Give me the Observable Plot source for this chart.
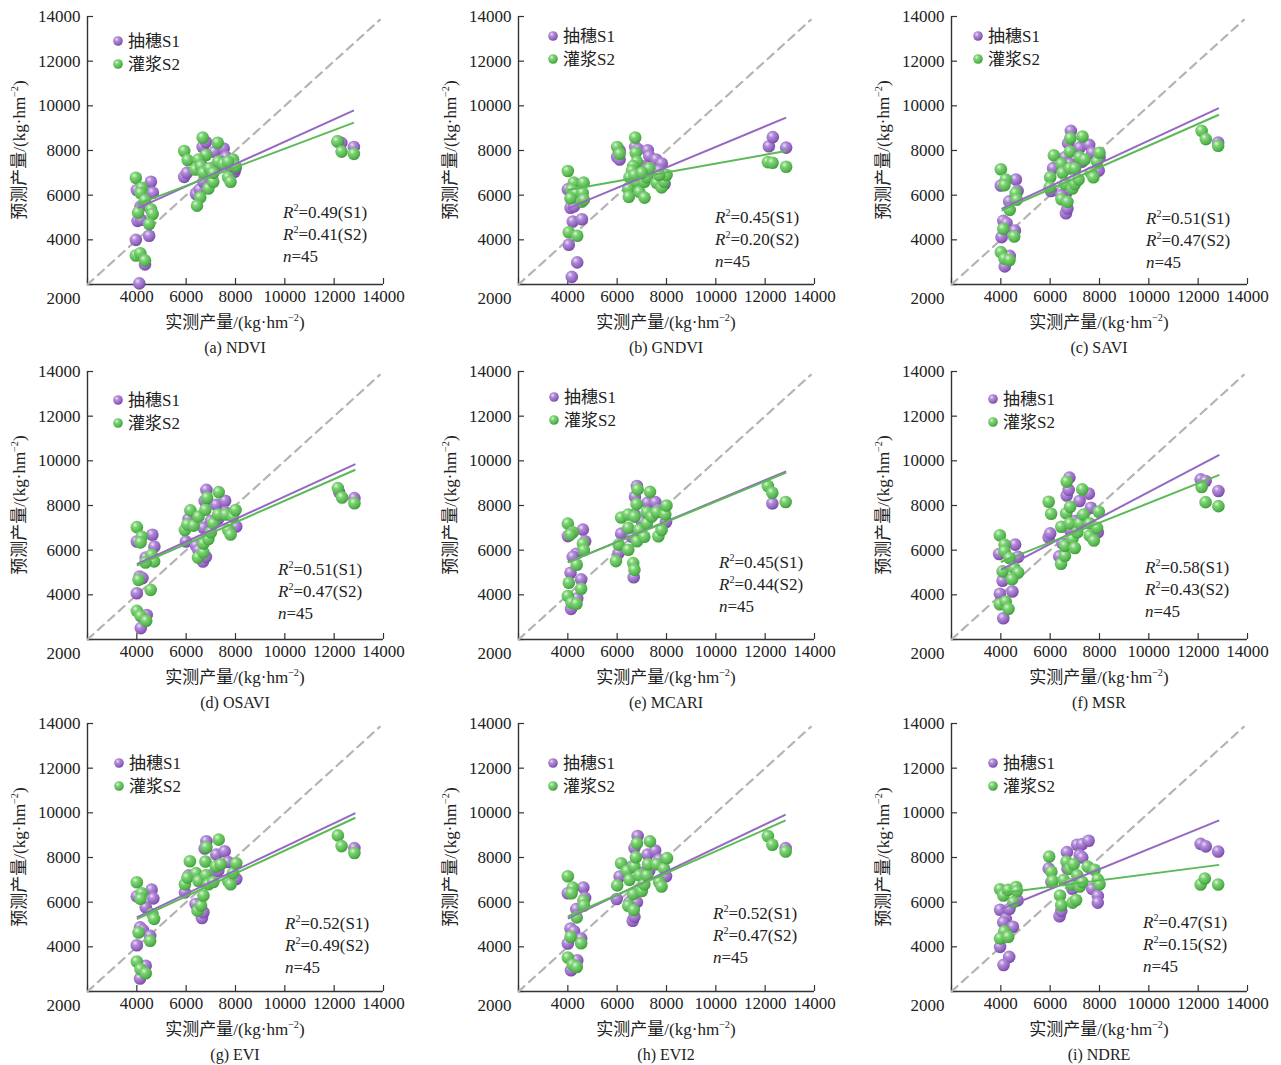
<!DOCTYPE html>
<html><head><meta charset="utf-8">
<script src="https://cdn.jsdelivr.net/npm/d3@7"></script>
<script src="https://cdn.jsdelivr.net/npm/@observablehq/plot@0.6"></script>
<style>
body{margin:0;background:#fff;width:1281px;height:1065px;position:relative;overflow:hidden;}
.panel{position:absolute;width:430px;height:355px;}
.panel svg{max-width:none !important;}
</style></head><body>
<svg width="0" height="0" style="position:absolute;left:0;top:0">
<defs>
<radialGradient id="gP" cx="0.36" cy="0.32" r="0.72">
<stop offset="0" stop-color="#ede0f8"/><stop offset="0.3" stop-color="#b28cd8"/><stop offset="0.75" stop-color="#9062be"/><stop offset="1" stop-color="#74489e"/>
</radialGradient>
<radialGradient id="gG" cx="0.36" cy="0.32" r="0.72">
<stop offset="0" stop-color="#dcf7d6"/><stop offset="0.3" stop-color="#7fd277"/><stop offset="0.75" stop-color="#55b64e"/><stop offset="1" stop-color="#3d963a"/>
</radialGradient>
</defs></svg>
<script>
// ---------------- data ----------------
const captions = ["(a) NDVI","(b) GNDVI","(c) SAVI","(d) OSAVI","(e) MCARI","(f) MSR","(g) EVI","(h) EVI2","(i) NDRE"];
const seriesNames = ["抽穗S1","灌浆S2"];
const r2S1 = [0.49,0.45,0.51,0.51,0.45,0.58,0.52,0.52,0.47];
const r2S2 = [0.41,0.20,0.47,0.47,0.44,0.43,0.49,0.47,0.15];
const nSamples = 45;
const xTicks = [2000,4000,6000,8000,10000,12000,14000];
const yTicks = [2000,4000,6000,8000,10000,12000,14000];
const diagEnds = [2000,13850];
const xTitle = ["实测产量/(kg·hm", "−2", ")"];
const yTitle = ["预测产量/(kg·hm", "−2", ")"];

const ndviS1 = [[4100,2050],[4330,2900],[3960,4000],[4500,4180],[4030,4850],[4170,4900],[4150,5500],[4000,6230],[4570,6600],[4650,6110],[4300,5600],[5920,6820],[6030,7000],[6400,6050],[6550,6250],[6670,8160],[6800,8380],[7140,7940],[7520,8090],[7620,7710],[7960,7050],[8000,7200],[6900,6700],[7000,7000],[7200,7300],[6700,6600],[7400,7500],[7800,7300],[6600,7400],[12290,8340],[12800,8160],[12150,8400]];
const ndviS2 = [[3960,6780],[4200,6330],[4150,6100],[4330,5780],[4050,5220],[4570,5370],[4640,5160],[4500,4710],[3960,3300],[4140,3400],[4330,3080],[5920,7980],[6060,7570],[6670,8580],[7280,8350],[6800,7800],[6500,7600],[6370,7150],[6600,7300],[6700,7000],[6900,6300],[6570,5900],[6440,5530],[7100,6600],[7300,7500],[7500,7400],[7700,6800],[7800,6600],[7900,7600],[8000,7300],[7700,7500],[6950,7200],[7100,7000],[12130,8410],[12300,7950],[12800,7850]];
const gndviS1 = [[4000,6260],[4110,5440],[4250,5500],[4200,4820],[4570,4920],[4040,3780],[4380,2990],[4160,2340],[6000,7710],[6100,7600],[6100,8000],[6730,8160],[6850,8050],[7240,8010],[7300,7750],[7580,7600],[7810,7420],[7920,6500],[6570,6200],[6450,6300],[7000,7300],[7400,7200],[6900,7000],[7700,7100],[12150,8190],[12310,8600],[12850,8130]];
const gndviS2 = [[4000,7080],[4240,6560],[4640,6560],[4150,6250],[4330,6100],[4600,6100],[4110,5860],[4570,5710],[4650,5800],[4040,4340],[4380,4180],[6000,8160],[6100,7850],[6730,8580],[6750,7900],[6800,7500],[6650,7300],[6600,7100],[6500,6800],[6450,6300],[6470,5930],[6800,6600],[6900,6150],[7110,5890],[7100,6600],[7200,6800],[7300,7200],[7600,6550],[7800,6350],[7900,6600],[8000,6900],[7700,6900],[6700,6900],[7000,7000],[12110,7480],[12300,7450],[12850,7270]];
const saviS1 = [[4000,6430],[4610,6700],[4680,6190],[4340,5720],[4100,4850],[4230,4750],[4030,4120],[4570,4420],[4360,3280],[4160,2810],[6030,6190],[6120,7210],[6600,7700],[6730,8330],[6840,8880],[7200,8130],[7580,8250],[7700,7900],[7970,7100],[8000,7700],[6640,5190],[6700,5400],[6650,6100],[6450,6000],[6800,7400],[7000,7200],[7300,7500],[12810,8360]];
const saviS2 = [[4000,7160],[4200,6700],[4150,6450],[4600,6090],[4650,5800],[4360,5340],[4100,4490],[4540,4150],[4000,3450],[4150,3150],[4350,3100],[6150,7780],[6000,6800],[5980,6350],[6450,7400],[6500,7000],[6600,6500],[6460,5820],[6700,5700],[6800,7950],[6820,8550],[6800,7200],[6900,6300],[7000,6500],[7000,7200],[7150,6700],[7200,7700],[7310,8630],[7400,7600],[7650,7000],[7750,6800],[7900,7500],[8000,7900],[12140,8880],[12310,8510],[12810,8210]];
const osaviS1 = [[4000,6390],[4630,6690],[4710,6160],[4360,5670],[4110,4820],[4230,4750],[4000,4070],[4400,3100],[4160,2510],[5990,6390],[6100,7400],[6400,6200],[6500,6000],[6680,5490],[6800,5700],[6820,8700],[6750,8200],[7220,8030],[7580,8210],[7600,7700],[8030,7060],[7000,7300],[7300,7400],[6700,7000],[12200,8600],[12820,8330]];
const osaviS2 = [[4000,7030],[4200,6600],[4150,6350],[4600,5790],[4700,5500],[4350,5450],[4070,4670],[4560,4220],[4000,3280],[4150,3050],[4380,2840],[5950,6900],[6050,7150],[6170,7780],[6300,7100],[6500,7500],[6480,5670],[6700,5900],[6700,6300],[6780,7810],[6850,8350],[6900,6500],[7000,6800],[7100,7200],[7320,8600],[7300,7600],[7600,7600],[7700,6900],[7800,6700],[7900,7500],[8000,7800],[12150,8780],[12320,8360],[12820,8100]];
const mcariS1 = [[4000,6630],[4610,6920],[4700,6400],[4340,5840],[4200,5700],[4110,4990],[4540,4690],[4380,3850],[4130,3370],[6160,6740],[6060,5870],[6670,4790],[6600,6600],[6800,8870],[6720,8390],[7230,8120],[7550,8150],[7650,7800],[7980,7260],[6700,7600],[7000,7300],[7300,7500],[12290,8090]];
const mcariS2 = [[4000,7190],[4200,6800],[4100,6700],[4610,6290],[4650,6000],[4360,5350],[4040,4540],[4540,4270],[4000,3950],[4150,3650],[4350,3600],[5950,5510],[6060,6250],[6160,7460],[6450,7600],[6450,7000],[6450,6020],[6650,5420],[6700,5120],[6700,7500],[6790,8060],[6830,8720],[6800,6400],[6900,6900],[7100,6600],[7200,7200],[7200,7700],[7330,8610],[7400,7500],[7600,7700],[7670,6620],[7800,6900],[7950,7600],[8000,8000],[12110,8870],[12290,8570],[12830,8160]];
const msrS1 = [[3930,5830],[4580,6250],[4700,5700],[4070,4630],[4470,4150],[3960,4050],[4100,2950],[5940,6580],[6000,6750],[6370,5720],[6500,6300],[6670,8450],[6750,8700],[6780,9250],[7190,8200],[7570,8530],[7650,7900],[7930,6800],[7000,7300],[7300,7500],[6800,6900],[12100,9170],[12300,9100],[12820,8650]];
const msrS2 = [[3960,6670],[4150,6250],[4150,5950],[4350,5650],[4070,5050],[4540,5200],[4700,5000],[4450,4700],[3960,3580],[4200,3700],[4310,3370],[5940,8170],[6040,7630],[6450,7050],[6440,5390],[6600,5750],[6600,6200],[6650,7650],[6670,9070],[6810,7940],[6800,7200],[6900,6500],[7000,6100],[7100,6800],[7200,7200],[7300,8720],[7350,7600],[7600,7200],[7600,6650],[7770,6430],[7900,7000],[7970,7720],[12140,8830],[12300,8150],[12820,7970]];
const eviS1 = [[4000,6260],[4600,6560],[4670,6170],[4360,5770],[4130,4870],[4250,4750],[4540,4490],[4000,4070],[4360,3150],[4130,2580],[5950,6440],[6100,7200],[6380,5920],[6640,5290],[6700,5550],[6820,8730],[6750,8400],[7220,8130],[7560,8280],[7700,7800],[8030,7040],[7000,7200],[7300,7400],[12820,8420]];
const eviS2 = [[4000,6890],[4200,6400],[4150,6150],[4630,5470],[4700,5250],[4070,4640],[4540,4270],[4000,3340],[4150,3000],[4360,2820],[5950,6800],[6050,7100],[6150,7830],[6400,7300],[6500,6950],[6460,5620],[6600,5850],[6700,6300],[6780,7820],[6820,8460],[6800,7200],[6900,6800],[7100,6900],[7200,7600],[7320,8800],[7400,7700],[7700,6950],[7800,6800],[7900,7300],[8030,7740],[12150,8990],[12300,8510],[12820,8200]];
const evi2S1 = [[4000,6400],[4630,6660],[4700,6190],[4340,5690],[4110,4820],[4250,4700],[4540,4370],[4000,4150],[4380,3400],[4130,2950],[5980,6140],[6100,7150],[6500,6000],[6630,5170],[6700,5350],[6800,6000],[6700,8420],[6830,8960],[6600,7600],[7230,8130],[7540,8310],[7700,7900],[7980,7160],[7000,7300],[7300,7400],[12830,8420]];
const evi2S2 = [[4000,7160],[4200,6650],[4150,6400],[4630,6070],[4650,5850],[4360,5320],[4110,4450],[4540,4160],[4000,3520],[4200,3200],[4360,3100],[6000,6750],[6160,7740],[6400,7400],[6500,7000],[6450,5840],[6670,5650],[6650,6360],[6700,7600],[6760,8010],[6800,8640],[6900,7200],[7000,6500],[7100,6800],[7200,7200],[7250,7700],[7330,8720],[7600,7700],[7700,6900],[7800,6700],[7900,7500],[8020,7970],[12110,8960],[12290,8570],[12830,8270]];
const ndreS1 = [[3970,5660],[4200,5250],[4100,5100],[4350,5700],[4680,6080],[4490,4900],[3970,4000],[4340,3550],[4110,3190],[5940,7510],[6050,6900],[6380,5370],[6450,5600],[6680,8240],[6700,7500],[6900,6600],[7090,8570],[7300,8600],[7560,8750],[7200,8100],[7300,8000],[7700,6600],[7930,6280],[7930,5980],[12100,8610],[12310,8500],[12810,8270]];
const ndreS2 = [[3970,6580],[4100,6300],[4300,6550],[4620,6680],[4650,6500],[4510,6000],[4140,4690],[3970,4380],[4300,4450],[5960,8040],[6050,7360],[6100,6950],[6400,6300],[6450,5860],[6550,7000],[6660,7820],[6800,7500],[6850,6800],[6910,5980],[7050,6100],[6950,7700],[7100,7200],[7200,6700],[7300,6900],[7520,7590],[7800,7450],[7930,7020],[8000,6800],[12100,6790],[12270,7060],[12810,6790]];

const pointsS1 = [ndviS1,gndviS1,saviS1,osaviS1,mcariS1,msrS1,eviS1,evi2S1,ndreS1];
const pointsS2 = [ndviS2,gndviS2,saviS2,osaviS2,mcariS2,msrS2,eviS2,evi2S2,ndreS2];
// fitted lines: [x start, y start, x end, y end]
const fitS1 = [[4050,5420,12800,9800],[4000,5410,12850,9470],[4030,5390,12840,9900],[4000,5370,12860,9850],[4000,5450,12850,9530],[4000,5120,12860,10270],[4000,5320,12860,9990],[4000,5260,12830,9920],[4040,5700,12850,9660]];
const fitS2 = [[4000,5590,12800,9250],[4000,6230,12850,7980],[4030,5310,12840,9600],[4000,5310,12860,9600],[4000,5450,12850,9470],[4000,5470,12860,9370],[4000,5240,12860,9780],[4000,5360,12830,9660],[4040,6410,12850,7670]];

// ---------------- layout & style ----------------
const FONT = '"Liberation Serif","Noto Sans CJK SC",serif';
const colLeft = [0,431,864];
const rowTop = [0,355,707];
const layout = [
  {leg:[31,25], ann:[196,196]}, {leg:[35,20], ann:[197,201]}, {leg:[27,20], ann:[195,202]},
  {leg:[31,29], ann:[191,198]}, {leg:[36,26], ann:[201,191]}, {leg:[42,28], ann:[194,196]},
  {leg:[32,40], ann:[198,200]}, {leg:[35,40], ann:[195,190]}, {leg:[42,40], ann:[192,199]}
];
const PURPLE = "#9568c2", GREEN = "#5cba56", AXIS = "#333", TXT = "#222";
const W = 430, H = 355, ML = 87, MT = 16, PW = 296, PH = 268;
const fmt = d => String(d);

function rich(g, x, y, parts, {anchor="start", size=17, rotate=0}={}) {
  const t = g.append("text").attr("x", x).attr("y", y).attr("text-anchor", anchor)
    .attr("font-size", size).attr("fill", TXT);
  if (rotate) t.attr("transform", `rotate(${rotate},${x},${y})`);
  let shift = 0;
  for (const p of parts) {
    const sp = t.append("tspan");
    const cur = p.sup ? -size * 0.4 : 0;
    if (cur !== shift) sp.attr("dy", cur - shift);
    shift = cur;
    if (p.sup) sp.attr("font-size", size * 0.6);
    if (p.it) sp.attr("font-style", "italic");
    sp.text(p.t);
  }
  return t;
}

function overlay(i) {
  return (index, scales, values, dims) => {
    const mL = dims.marginLeft, mT = dims.marginTop;
    const pw = dims.width - mL - dims.marginRight, ph = dims.height - mT - dims.marginBottom;
    const g = d3.create("svg:g").attr("font-family", FONT);
    const L = layout[i];
    // legend
    ["url(#gP)","url(#gG)"].forEach((f, k) => {
      const cx = mL + L.leg[0], cy = mT + L.leg[1] + k * 23;
      g.append("circle").attr("cx", cx).attr("cy", cy).attr("r", 4.8).attr("fill", f);
      g.append("text").attr("x", cx + 10).attr("y", cy + 6).attr("text-anchor", "start")
        .attr("font-size", 17).attr("fill", TXT).text(seriesNames[k]);
    });
    // annotation
    const ax = mL + L.ann[0], ay = mT + L.ann[1] + 6;
    rich(g, ax, ay, [{t:"R",it:true},{t:"2",sup:true},{t:"=" + r2S1[i].toFixed(2) + "(S1)"}]);
    rich(g, ax, ay + 22, [{t:"R",it:true},{t:"2",sup:true},{t:"=" + r2S2[i].toFixed(2) + "(S2)"}]);
    rich(g, ax, ay + 44, [{t:"n",it:true},{t:"=" + nSamples}]);
    // axis titles
    rich(g, mL + pw / 2, mT + ph + 44, [{t:xTitle[0]},{t:xTitle[1],sup:true},{t:xTitle[2]}], {anchor:"middle"});
    rich(g, 25, mT + ph / 2, [{t:yTitle[0]},{t:yTitle[1],sup:true},{t:yTitle[2]}], {anchor:"middle", rotate:-90});
    // caption
    rich(g, mL + pw / 2, mT + ph + 69, [{t:captions[i]}], {anchor:"middle", size:16});
    return g.node();
  };
}

function panel(i) {
  const s1 = pointsS1[i].map(([x, y]) => ({x, y}));
  const s2 = pointsS2[i].map(([x, y]) => ({x, y}));
  return Plot.plot({
    width: W, height: H,
    marginLeft: ML, marginTop: MT, marginRight: W - ML - PW, marginBottom: H - MT - PH,
    x: {domain: [2000, 14000]},
    y: {domain: [2000, 14000]},
    style: {fontFamily: FONT, fontSize: "17px", color: TXT, background: "transparent", overflow: "visible", maxWidth: "none"},
    marks: [
      Plot.axisX({ticks: xTicks.filter(t => t > 2000), tickFormat: fmt, tickSize: 0, tickPadding: 5, fontSize: 17, label: null}),
      Plot.axisY({ticks: yTicks.filter(t => t > 2000), tickFormat: fmt, tickSize: 0, tickPadding: 7, fontSize: 17, label: null}),
      Plot.axisY({ticks: [2000], tickFormat: fmt, tickSize: 0, tickPadding: 7, fontSize: 17, dy: 14, label: null}),
      Plot.tickX(xTicks, {x: d => d, insetTop: PH - 6, stroke: AXIS, strokeWidth: 1.2}),
      Plot.tickY(yTicks, {y: d => d, insetRight: PW - 6, stroke: AXIS, strokeWidth: 1.2}),
      Plot.ruleX([2000], {stroke: AXIS, strokeWidth: 1.4}),
      Plot.ruleY([2000], {stroke: AXIS, strokeWidth: 1.4}),
      Plot.line(diagEnds, {x: d => d, y: d => d, stroke: "#b4b4b4", strokeWidth: 2.2, strokeDasharray: "8,6"}),
      Plot.dot(s1, {x: "x", y: "y", r: 6.3, fill: "url(#gP)"}),
      Plot.dot(s2, {x: "x", y: "y", r: 6.3, fill: "url(#gG)"}),
      Plot.link([fitS1[i]], {x1: d => d[0], y1: d => d[1], x2: d => d[2], y2: d => d[3], stroke: PURPLE, strokeWidth: 2}),
      Plot.link([fitS2[i]], {x1: d => d[0], y1: d => d[1], x2: d => d[2], y2: d => d[3], stroke: GREEN, strokeWidth: 2}),
      overlay(i)
    ]
  });
}

for (let i = 0; i < 9; i++) {
  const div = document.createElement("div");
  div.className = "panel";
  div.style.left = colLeft[i % 3] + "px";
  div.style.top = rowTop[Math.floor(i / 3)] + "px";
  div.appendChild(panel(i));
  document.body.appendChild(div);
}
</script>
</body></html>
